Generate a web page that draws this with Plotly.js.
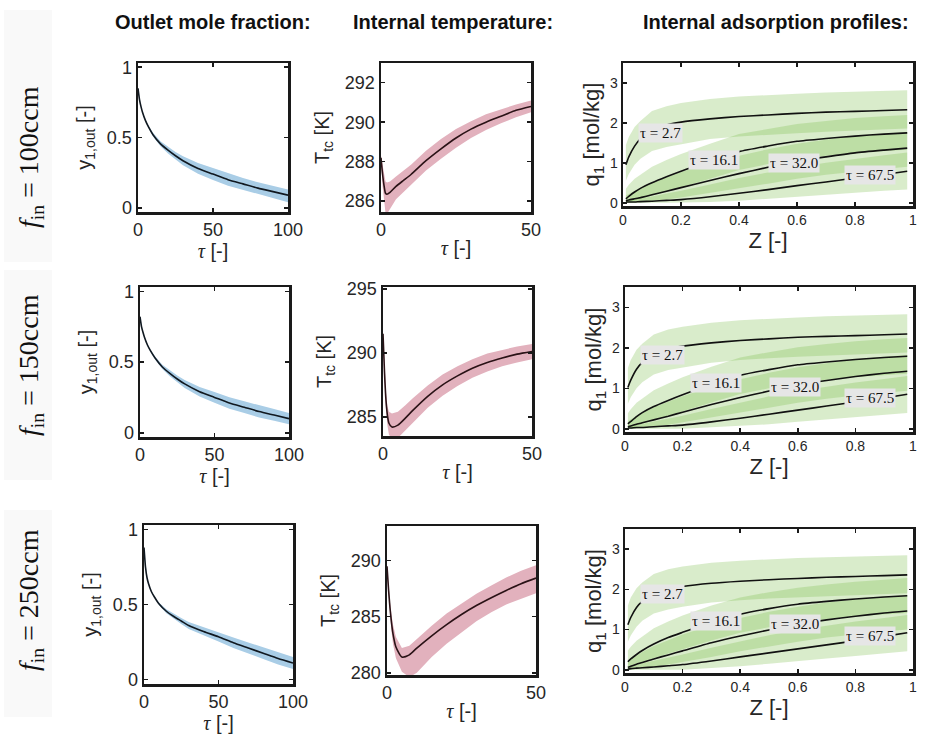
<!DOCTYPE html>
<html>
<head>
<meta charset="utf-8">
<script src="https://cdn.plot.ly/plotly-3.0.1.min.js"></script>
<style>html,body{margin:0;padding:0;background:#fff;}#chart{width:925px;height:734px;}</style>
</head>
<body>
<div id="chart"></div>
<script>
// ---------------- DATA ----------------
const colTitles = ['Outlet mole fraction:', 'Internal temperature:', 'Internal adsorption profiles:'];
const rowLabels = ['100ccm', '150ccm', '250ccm'];

// Outlet mole fraction
const tauY = [0, 1, 2, 3, 5, 7, 10, 15, 20, 25, 30, 40, 50, 60, 70, 80, 90, 100];
const yOut100   = [0.85, 0.77, 0.72, 0.68, 0.62, 0.575, 0.52, 0.455, 0.41, 0.37, 0.335, 0.28, 0.24, 0.20, 0.17, 0.14, 0.115, 0.09];
const yOut100Hi = [0.85, 0.77, 0.72, 0.683, 0.625, 0.583, 0.533, 0.473, 0.433, 0.397, 0.367, 0.318, 0.283, 0.245, 0.212, 0.181, 0.155, 0.13];
const yOut100Lo = [0.85, 0.77, 0.72, 0.677, 0.615, 0.567, 0.507, 0.437, 0.387, 0.343, 0.303, 0.243, 0.197, 0.157, 0.126, 0.096, 0.07, 0.04];
const yOut150   = [0.82, 0.75, 0.71, 0.675, 0.62, 0.58, 0.53, 0.465, 0.42, 0.38, 0.345, 0.29, 0.25, 0.21, 0.18, 0.15, 0.125, 0.10];
const yOut150Hi = [0.82, 0.75, 0.71, 0.678, 0.625, 0.587, 0.541, 0.48, 0.44, 0.404, 0.373, 0.323, 0.288, 0.251, 0.222, 0.192, 0.167, 0.14];
const yOut150Lo = [0.82, 0.75, 0.71, 0.672, 0.615, 0.573, 0.519, 0.45, 0.40, 0.356, 0.317, 0.257, 0.212, 0.17, 0.139, 0.108, 0.084, 0.06];
const yOut250   = [0.88, 0.75, 0.68, 0.64, 0.585, 0.55, 0.505, 0.455, 0.42, 0.39, 0.36, 0.32, 0.285, 0.245, 0.21, 0.175, 0.14, 0.11];
const yOut250Hi = [0.88, 0.75, 0.68, 0.642, 0.589, 0.556, 0.514, 0.468, 0.437, 0.41, 0.384, 0.348, 0.317, 0.28, 0.247, 0.213, 0.18, 0.15];
const yOut250Lo = [0.88, 0.75, 0.68, 0.638, 0.581, 0.544, 0.496, 0.442, 0.403, 0.37, 0.336, 0.292, 0.253, 0.21, 0.173, 0.137, 0.1, 0.07];

// Internal temperature
const tauT = [0, 0.5, 1, 1.5, 2, 3, 5, 7.5, 10, 15, 20, 25, 30, 35, 40, 45, 50];
const tTc100   = [288.2, 287.4, 286.8, 286.4, 286.35, 286.45, 286.75, 287.05, 287.35, 288.05, 288.65, 289.2, 289.65, 290.0, 290.3, 290.6, 290.8];
const tTc100Hi = [288.3, 287.8, 287.3, 287.0, 286.95, 287.0, 287.25, 287.55, 287.85, 288.55, 289.15, 289.65, 290.05, 290.4, 290.65, 290.9, 291.1];
const tTc100Lo = [288.1, 286.8, 286.0, 285.4, 285.35, 285.6, 286.1, 286.5, 286.85, 287.55, 288.15, 288.7, 289.2, 289.6, 289.95, 290.25, 290.5];
const tTc150   = [291.5, 288.5, 286.3, 285.1, 284.5, 284.2, 284.35, 284.9, 285.5, 286.6, 287.5, 288.2, 288.8, 289.25, 289.6, 289.9, 290.1];
const tTc150Hi = [291.6, 288.9, 286.9, 285.8, 285.4, 285.25, 285.4, 285.9, 286.45, 287.45, 288.3, 288.95, 289.5, 289.95, 290.25, 290.5, 290.7];
const tTc150Lo = [291.4, 288.0, 285.6, 284.3, 283.6, 283.3, 283.35, 283.9, 284.55, 285.7, 286.65, 287.4, 288.05, 288.55, 288.95, 289.25, 289.5];
const tTc250   = [289.5, 287.5, 285.8, 284.5, 283.5, 282.3, 281.4, 281.6, 282.2, 283.3, 284.3, 285.2, 286.0, 286.7, 287.35, 287.95, 288.45];
const tTc250Hi = [289.6, 287.8, 286.3, 285.2, 284.3, 283.2, 282.2, 282.4, 283.0, 284.2, 285.3, 286.2, 287.05, 287.8, 288.5, 289.1, 289.6];
const tTc250Lo = [289.4, 287.2, 285.2, 283.7, 282.6, 281.3, 280.1, 279.6, 280.0, 281.4, 282.6, 283.6, 284.6, 285.4, 286.1, 286.6, 287.1];

// Internal adsorption profiles
const zPos = [0.01, 0.02, 0.04, 0.06, 0.1, 0.15, 0.2, 0.3, 0.4, 0.5, 0.6, 0.7, 0.8, 0.9, 0.98];
const profileLabels = ['τ = 2.7', 'τ = 16.1', 'τ = 32.0', 'τ = 67.5'];
// 100ccm
const q100t27   = [0.95, 1.15, 1.42, 1.6, 1.81, 1.95, 2.02, 2.1, 2.16, 2.2, 2.24, 2.27, 2.29, 2.31, 2.33];
const q100t27Hi = [1.45, 1.65, 1.9, 2.05, 2.3, 2.42, 2.5, 2.6, 2.66, 2.7, 2.73, 2.76, 2.78, 2.8, 2.82];
const q100t27Lo = [0.55, 0.72, 0.95, 1.1, 1.3, 1.4, 1.47, 1.6, 1.66, 1.7, 1.74, 1.78, 1.81, 1.84, 1.86];
const q100t16   = [0.1, 0.16, 0.27, 0.36, 0.5, 0.65, 0.79, 1.04, 1.28, 1.42, 1.54, 1.61, 1.67, 1.72, 1.75];
const q100t16Hi = [0.35, 0.45, 0.6, 0.7, 0.9, 1.07, 1.22, 1.48, 1.72, 1.85, 1.97, 2.05, 2.12, 2.17, 2.2];
const q100t16Lo = [0.0, 0.02, 0.06, 0.1, 0.18, 0.28, 0.38, 0.6, 0.82, 0.97, 1.1, 1.18, 1.25, 1.3, 1.33];
const q100t32   = [0.05, 0.07, 0.1, 0.13, 0.2, 0.29, 0.38, 0.56, 0.73, 0.89, 1.04, 1.15, 1.25, 1.32, 1.37];
const q100t32Hi = [0.18, 0.22, 0.3, 0.37, 0.5, 0.64, 0.77, 1.0, 1.18, 1.34, 1.48, 1.58, 1.67, 1.73, 1.77];
const q100t32Lo = [0.0, 0.0, 0.0, 0.01, 0.04, 0.08, 0.13, 0.24, 0.36, 0.48, 0.6, 0.7, 0.78, 0.85, 0.9];
const q100t67   = [0.02, 0.02, 0.02, 0.03, 0.04, 0.06, 0.08, 0.15, 0.24, 0.33, 0.43, 0.52, 0.62, 0.71, 0.79];
const q100t67Hi = [0.06, 0.07, 0.09, 0.11, 0.16, 0.23, 0.3, 0.46, 0.62, 0.76, 0.89, 1.0, 1.1, 1.19, 1.26];
const q100t67Lo = [0.0, 0.0, 0.0, 0.0, 0.0, 0.0, 0.0, 0.02, 0.05, 0.09, 0.14, 0.2, 0.25, 0.3, 0.33];
// 150ccm
const q150t27   = [1.02, 1.2, 1.47, 1.64, 1.84, 1.97, 2.04, 2.12, 2.18, 2.22, 2.26, 2.28, 2.3, 2.32, 2.34];
const q150t27Hi = [1.5, 1.7, 1.95, 2.1, 2.33, 2.45, 2.52, 2.62, 2.68, 2.72, 2.75, 2.78, 2.8, 2.82, 2.83];
const q150t27Lo = [0.62, 0.78, 1.0, 1.15, 1.34, 1.45, 1.52, 1.63, 1.7, 1.74, 1.78, 1.81, 1.84, 1.86, 1.88];
const q150t16   = [0.12, 0.18, 0.3, 0.4, 0.55, 0.7, 0.84, 1.1, 1.32, 1.46, 1.58, 1.65, 1.71, 1.76, 1.79];
const q150t16Hi = [0.38, 0.48, 0.64, 0.75, 0.95, 1.12, 1.27, 1.53, 1.76, 1.89, 2.01, 2.09, 2.16, 2.21, 2.24];
const q150t16Lo = [0.0, 0.03, 0.08, 0.13, 0.22, 0.32, 0.42, 0.65, 0.86, 1.0, 1.13, 1.21, 1.28, 1.33, 1.36];
const q150t32   = [0.05, 0.07, 0.11, 0.15, 0.22, 0.31, 0.41, 0.6, 0.77, 0.93, 1.08, 1.19, 1.29, 1.37, 1.42];
const q150t32Hi = [0.19, 0.23, 0.32, 0.4, 0.53, 0.67, 0.8, 1.04, 1.22, 1.38, 1.52, 1.62, 1.71, 1.78, 1.82];
const q150t32Lo = [0.0, 0.0, 0.0, 0.02, 0.05, 0.1, 0.15, 0.27, 0.4, 0.52, 0.64, 0.74, 0.82, 0.89, 0.94];
const q150t67   = [0.02, 0.02, 0.03, 0.03, 0.05, 0.07, 0.09, 0.17, 0.26, 0.36, 0.46, 0.56, 0.66, 0.76, 0.85];
const q150t67Hi = [0.07, 0.08, 0.1, 0.12, 0.18, 0.25, 0.32, 0.49, 0.65, 0.8, 0.93, 1.04, 1.14, 1.23, 1.3];
const q150t67Lo = [0.0, 0.0, 0.0, 0.0, 0.0, 0.0, 0.0, 0.03, 0.07, 0.11, 0.17, 0.23, 0.29, 0.34, 0.39];
// 250ccm
const q250t27   = [1.12, 1.3, 1.55, 1.7, 1.88, 2.0, 2.07, 2.15, 2.2, 2.24, 2.27, 2.3, 2.32, 2.34, 2.36];
const q250t27Hi = [1.6, 1.8, 2.03, 2.17, 2.38, 2.5, 2.57, 2.66, 2.71, 2.75, 2.78, 2.8, 2.82, 2.84, 2.85];
const q250t27Lo = [0.7, 0.85, 1.07, 1.22, 1.4, 1.5, 1.57, 1.67, 1.73, 1.77, 1.8, 1.83, 1.86, 1.88, 1.9];
const q250t16   = [0.2, 0.27, 0.38, 0.48, 0.64, 0.8, 0.93, 1.18, 1.38, 1.52, 1.63, 1.7, 1.76, 1.81, 1.84];
const q250t16Hi = [0.48, 0.57, 0.72, 0.83, 1.03, 1.2, 1.35, 1.6, 1.8, 1.93, 2.04, 2.12, 2.19, 2.24, 2.28];
const q250t16Lo = [0.02, 0.06, 0.12, 0.18, 0.29, 0.41, 0.51, 0.73, 0.92, 1.06, 1.18, 1.26, 1.33, 1.38, 1.41];
const q250t32   = [0.06, 0.09, 0.14, 0.18, 0.27, 0.37, 0.47, 0.67, 0.84, 0.99, 1.13, 1.24, 1.33, 1.41, 1.46];
const q250t32Hi = [0.21, 0.26, 0.36, 0.44, 0.59, 0.74, 0.88, 1.11, 1.29, 1.44, 1.57, 1.67, 1.75, 1.82, 1.86];
const q250t32Lo = [0.0, 0.0, 0.01, 0.03, 0.07, 0.13, 0.19, 0.32, 0.46, 0.58, 0.7, 0.8, 0.88, 0.95, 1.0];
const q250t67   = [0.02, 0.03, 0.04, 0.05, 0.07, 0.1, 0.13, 0.22, 0.32, 0.42, 0.52, 0.62, 0.72, 0.83, 0.92];
const q250t67Hi = [0.08, 0.1, 0.13, 0.16, 0.22, 0.3, 0.38, 0.55, 0.71, 0.86, 0.99, 1.1, 1.2, 1.29, 1.36];
const q250t67Lo = [0.0, 0.0, 0.0, 0.0, 0.0, 0.0, 0.0, 0.04, 0.09, 0.15, 0.21, 0.28, 0.34, 0.4, 0.46];

// ---------------- BUILD ----------------
const W = 925, H = 734;
const yOutSets = [[yOut100, yOut100Hi, yOut100Lo], [yOut150, yOut150Hi, yOut150Lo], [yOut250, yOut250Hi, yOut250Lo]];
const tSets = [[tTc100, tTc100Hi, tTc100Lo], [tTc150, tTc150Hi, tTc150Lo], [tTc250, tTc250Hi, tTc250Lo]];
const qSets = [
  [[q100t27, q100t27Hi, q100t27Lo], [q100t16, q100t16Hi, q100t16Lo], [q100t32, q100t32Hi, q100t32Lo], [q100t67, q100t67Hi, q100t67Lo]],
  [[q150t27, q150t27Hi, q150t27Lo], [q150t16, q150t16Hi, q150t16Lo], [q150t32, q150t32Hi, q150t32Lo], [q150t67, q150t67Hi, q150t67Lo]],
  [[q250t27, q250t27Hi, q250t27Lo], [q250t16, q250t16Hi, q250t16Lo], [q250t32, q250t32Hi, q250t32Lo], [q250t67, q250t67Hi, q250t67Lo]]
];

// plot boxes in pixels: [left, right, top, bottom]
const boxes = [
  [[138, 288, 63, 212], [381, 531, 63, 212], [623, 913, 63, 206]],
  [[140, 289, 287, 437], [383, 532, 287, 436], [625, 913, 287, 432]],
  [[144, 293, 525, 684], [387, 536, 526, 675], [625, 913, 529, 673]]
];
const tRanges = [[285.45, 293], [283.5, 295.15], [279.8, 293.1]];
const tTicks = [[286, 288, 290, 292], [285, 290, 295], [280, 285, 290]];
const labelPos = [
  [[0.13, 1.75], [0.315, 1.07], [0.59, 0.99], [0.85, 0.70]],
  [[0.13, 1.81], [0.315, 1.14], [0.59, 1.04], [0.85, 0.77]],
  [[0.13, 1.89], [0.315, 1.22], [0.59, 1.14], [0.85, 0.84]]
];

const sans = 'Liberation Sans, Arial, Helvetica, sans-serif';
const serif = 'Liberation Serif, Times New Roman, serif';
const tauTitle = '<span style="font-family:Liberation Serif;font-style:italic">τ</span> [-]';

const traces = [];
const layout = {
  width: W, height: H,
  margin: {l: 0, r: 0, t: 0, b: 0},
  paper_bgcolor: '#ffffff', plot_bgcolor: '#ffffff',
  showlegend: false,
  annotations: [], shapes: []
};

function axBase(fontSize) {
  return {
    showline: true, linecolor: '#1a1a1a', linewidth: 2.5, mirror: 'ticks',
    ticks: 'inside', ticklen: 4, tickwidth: 1.5, tickcolor: '#1a1a1a',
    showgrid: false, zeroline: false, fixedrange: true,
    tickfont: {family: sans, size: fontSize, color: '#262626'},
    title: {font: {family: sans, size: 20, color: '#262626'}}
  };
}
function bandTrace(x, hi, lo, xa, ya, color) {
  return {
    type: 'scatter', mode: 'lines', x: x.concat(x.slice().reverse()),
    y: hi.concat(lo.slice().reverse()), fill: 'toself', fillcolor: color,
    line: {width: 0, color: 'rgba(0,0,0,0)'}, xaxis: xa, yaxis: ya, hoverinfo: 'skip'
  };
}
function lineTrace(x, y, xa, ya, color) {
  return {type: 'scatter', mode: 'lines', x: x, y: y, line: {color: color, width: 1.6, shape: 'spline', smoothing: 0.6}, xaxis: xa, yaxis: ya};
}

for (let r = 0; r < 3; r++) {
  for (let c = 0; c < 3; c++) {
    const k = r * 3 + c + 1;
    const xa = 'x' + (k === 1 ? '' : k), ya = 'y' + (k === 1 ? '' : k);
    const xName = 'xaxis' + (k === 1 ? '' : k), yName = 'yaxis' + (k === 1 ? '' : k);
    const b = boxes[r][c];
    const xd = [b[0] / W, b[1] / W], yd = [1 - b[3] / H, 1 - b[2] / H];
    let xax, yax;
    if (c === 0) {
      const s = yOutSets[r];
      traces.push(bandTrace(tauY, s[1], s[2], xa, ya, '#a9cde6'));
      traces.push(lineTrace(tauY, s[0], xa, ya, '#101820'));
      xax = axBase(18); xax.range = [0, 100]; xax.tickvals = [0, 50, 100];
      xax.title.text = tauTitle; xax.title.standoff = 2;
      yax = axBase(18); yax.range = [-0.03, 1.03]; yax.tickvals = [0, 0.5, 1]; yax.ticktext = ['0', '0.5', '1'];
      yax.title.text = 'y<sub>1,out</sub> [-]'; yax.title.standoff = 10;
    } else if (c === 1) {
      const s = tSets[r];
      traces.push(bandTrace(tauT, s[1], s[2], xa, ya, '#e2b1bd'));
      traces.push(lineTrace(tauT, s[0], xa, ya, '#2a1216'));
      xax = axBase(18); xax.range = [0, 50]; xax.tickvals = [0, 50];
      xax.title.text = tauTitle; xax.title.standoff = 2;
      yax = axBase(18); yax.range = tRanges[r]; yax.tickvals = tTicks[r];
      yax.title.text = 'T<sub>tc</sub> [K]'; yax.title.standoff = 10;
    } else {
      const sets = qSets[r];
      sets.forEach(s => traces.push(bandTrace(zPos, s[1], s[2], xa, ya, 'rgba(120,185,70,0.28)')));
      sets.forEach(s => traces.push(lineTrace(zPos, s[0], xa, ya, '#111111')));
      xax = axBase(14); xax.range = [0, 1]; xax.tickvals = [0, 0.2, 0.4, 0.6, 0.8, 1]; xax.ticktext = ['0', '0.2', '0.4', '0.6', '0.8', '1'];
      xax.title.text = 'Z [-]'; xax.title.font.size = 22; xax.title.standoff = 2;
      yax = axBase(14); yax.range = [-0.08, 3.5]; yax.tickvals = [0, 1, 2, 3];
      yax.title.text = 'q<sub>1</sub> [mol/kg]'; yax.title.font.size = 22; yax.title.standoff = 4;
      profileLabels.forEach((t, i) => {
        layout.annotations.push({
          xref: xa, yref: ya, x: labelPos[r][i][0], y: labelPos[r][i][1], text: t, showarrow: false,
          font: {family: serif, size: 15, color: '#111'}, bgcolor: '#e6e6e6', borderpad: 1
        });
      });
    }
    xax.domain = xd; xax.anchor = ya;
    yax.domain = yd; yax.anchor = xa;
    layout[xName] = xax; layout[yName] = yax;
  }
}

// column titles
const colCenters = [213, 453, 776];
colTitles.forEach((t, i) => layout.annotations.push({
  xref: 'paper', yref: 'paper', x: colCenters[i] / W, y: 1 - 22 / H, text: '<b>' + t + '</b>',
  showarrow: false, xanchor: 'center', yanchor: 'middle', font: {family: sans, size: 20, color: '#111'}
}));

// row labels with faint backgrounds
const rowCenters = [157, 365, 600];
const rowBg = [[10, 262], [270, 480], [510, 717]];
rowLabels.forEach((t, i) => {
  layout.shapes.push({type: 'rect', xref: 'paper', yref: 'paper', x0: 4 / W, x1: 52 / W,
    y0: 1 - rowBg[i][1] / H, y1: 1 - rowBg[i][0] / H, fillcolor: '#f9f9f9', line: {width: 0}, layer: 'below'});
  layout.annotations.push({
    xref: 'paper', yref: 'paper', x: 30 / W, y: 1 - rowCenters[i] / H, textangle: -90,
    text: '<i>f</i><sub>in</sub> = ' + t, showarrow: false, xanchor: 'center', yanchor: 'middle',
    font: {family: serif, size: 28, color: '#111'}
  });
});

Plotly.newPlot('chart', traces, layout, {displayModeBar: false, staticPlot: true});
</script>
</body>
</html>
